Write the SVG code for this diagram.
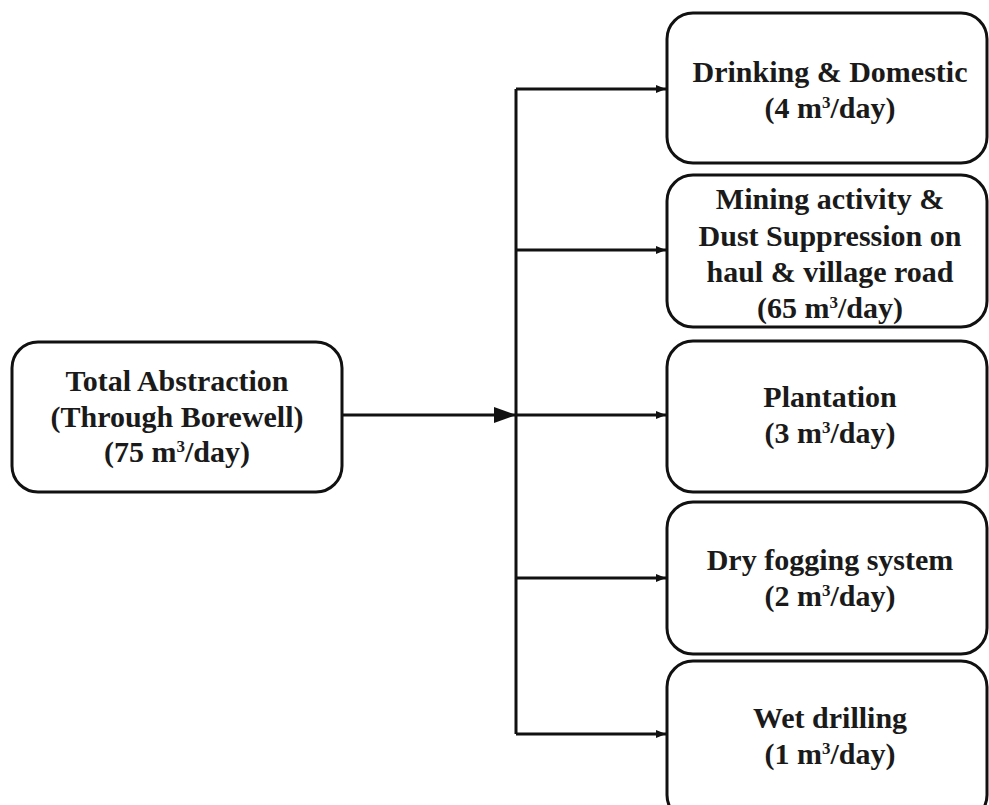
<svg xmlns="http://www.w3.org/2000/svg" width="989" height="805" viewBox="0 0 989 805">
<style>
.box{fill:#fff;stroke:#111;stroke-width:3}
.t{font-family:"Liberation Serif","Times New Roman",serif;font-weight:bold;font-size:30px;fill:#1a1a1a;text-anchor:middle}
.sup{font-size:17px}
.ln{fill:none;stroke:#111;stroke-width:3}
</style>
<defs>
<marker id="sm" viewBox="0 0 10 8" refX="10" refY="4" markerWidth="10" markerHeight="8" markerUnits="userSpaceOnUse" orient="auto"><path d="M0,0 L10,4 L0,8 Z" fill="#111"/></marker>
<marker id="big" viewBox="0 0 22 16" refX="22" refY="8" markerWidth="22" markerHeight="16" markerUnits="userSpaceOnUse" orient="auto"><path d="M0,0 L22,8 L0,16 Z" fill="#111"/></marker>
</defs>
<rect width="989" height="805" fill="#fff"/>
<g id="connectors">
<path class="ln" d="M342,415 H516" marker-end="url(#big)"/>
<path class="ln" d="M516,89 V734"/>
<path class="ln" d="M516,89 H666" marker-end="url(#sm)"/>
<path class="ln" d="M516,250 H666" marker-end="url(#sm)"/>
<path class="ln" d="M516,415 H666" marker-end="url(#sm)"/>
<path class="ln" d="M516,578 H666" marker-end="url(#sm)"/>
<path class="ln" d="M516,734 H666" marker-end="url(#sm)"/>
</g>
<g id="total">
<rect class="box" x="12" y="342" width="330" height="150" rx="26"/>
<text class="t" x="177" y="391">Total Abstraction</text>
<text class="t" x="177" y="427">(Through Borewell)</text>
<text class="t" x="177" y="462">(75 m<tspan class="sup" dy="-10">3</tspan><tspan dy="10">/day)</tspan></text>
</g>
<g id="drinking">
<rect class="box" x="667" y="13" width="320" height="150" rx="26"/>
<text class="t" x="830" y="82">Drinking &amp; Domestic</text>
<text class="t" x="830" y="118">(4 m<tspan class="sup" dy="-10">3</tspan><tspan dy="10">/day)</tspan></text>
</g>
<g id="mining">
<rect class="box" x="667" y="175" width="320" height="152" rx="26"/>
<text class="t" x="830" y="209">Mining activity &amp;</text>
<text class="t" x="830" y="246">Dust Suppression on</text>
<text class="t" x="830" y="282">haul &amp; village road</text>
<text class="t" x="830" y="318">(65 m<tspan class="sup" dy="-10">3</tspan><tspan dy="10">/day)</tspan></text>
</g>
<g id="plantation">
<rect class="box" x="667" y="341" width="320" height="151" rx="26"/>
<text class="t" x="830" y="407">Plantation</text>
<text class="t" x="830" y="443">(3 m<tspan class="sup" dy="-10">3</tspan><tspan dy="10">/day)</tspan></text>
</g>
<g id="fogging">
<rect class="box" x="667" y="502" width="320" height="152" rx="26"/>
<text class="t" x="830" y="570">Dry fogging system</text>
<text class="t" x="830" y="606">(2 m<tspan class="sup" dy="-10">3</tspan><tspan dy="10">/day)</tspan></text>
</g>
<g id="drilling">
<rect class="box" x="667" y="661" width="320" height="160" rx="26"/>
<text class="t" x="830" y="728">Wet drilling</text>
<text class="t" x="830" y="764">(1 m<tspan class="sup" dy="-10">3</tspan><tspan dy="10">/day)</tspan></text>
</g>
</svg>
